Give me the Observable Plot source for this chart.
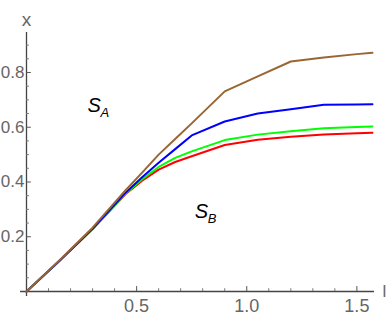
<!DOCTYPE html>
<html>
<head>
<meta charset="utf-8">
<script src="https://cdn.jsdelivr.net/npm/d3@7"></script>
<script src="https://cdn.jsdelivr.net/npm/@observablehq/plot@0.6"></script>
<style>
  html, body { margin: 0; padding: 0; background: #fff; }
  #chart svg { display: block; }
</style>
</head>
<body>
<div id="chart"></div>
<script>
// ---- data ----
const lValues = [0, 0.15, 0.3, 0.45, 0.525, 0.6, 0.675, 0.75, 0.9, 1.05, 1.2, 1.35, 1.5, 1.5708];
const brownX  = [0, 0.114, 0.233, 0.370, 0.434, 0.500, 0.557, 0.614, 0.731, 0.786, 0.840, 0.855, 0.867, 0.872];
const blueX   = [0, 0.112, 0.229, 0.361, 0.417, 0.470, 0.520, 0.570, 0.621, 0.650, 0.666, 0.682, 0.683, 0.684];
const greenX  = [0, 0.112, 0.228, 0.358, 0.410, 0.455, 0.488, 0.512, 0.553, 0.573, 0.585, 0.596, 0.601, 0.603];
const redX    = [0, 0.112, 0.228, 0.356, 0.405, 0.445, 0.473, 0.494, 0.535, 0.554, 0.565, 0.573, 0.578, 0.580];
const seriesNames  = ["curve 1", "curve 2", "curve 3", "curve 4"];
const seriesColors = ["#ff0000", "#00ff00", "#0000ff", "#996633"];
const xMajorTicks = [0.5, 1.0, 1.5];
const xMinorTicks = [0.1, 0.2, 0.3, 0.4, 0.6, 0.7, 0.8, 0.9, 1.1, 1.2, 1.3, 1.4];
const yMajorTicks = [0.2, 0.4, 0.6, 0.8];
const yMinorTicks = [0.05, 0.1, 0.15, 0.25, 0.3, 0.35, 0.45, 0.5, 0.55, 0.65, 0.7, 0.75, 0.85, 0.9];
const regionLabels = [{name: "S", sub: "A", l: 0.277, x: 0.655}, {name: "S", sub: "B", l: 0.764, x: 0.270}];
const axisLabelX = "l";
const axisLabelY = "x";

const seriesValues = [redX, greenX, blueX, brownX];
const rows = seriesNames.flatMap((s, k) => lValues.map((l, i) => ({series: s, l, x: seriesValues[k][i]})));

const xMax = 1.58, yMax = 0.946;
const tickFont = "'Liberation Sans', Arial, sans-serif";
const gray = "#666";

const chart = Plot.plot({
  width: 388,
  height: 319,
  marginLeft: 26,
  marginRight: 14,
  marginTop: 32,
  marginBottom: 28,
  x: {domain: [0, xMax], axis: null},
  y: {domain: [0, yMax], axis: null},
  color: {domain: seriesNames, range: seriesColors},
  style: {fontFamily: tickFont, background: "#fff", overflow: "visible"},
  marks: [
    // axes lines
    Plot.ruleY([0], {x1: -0.027, x2: xMax, stroke: "#444", strokeWidth: 1.3}),
    Plot.ruleX([0], {y1: -0.018, y2: yMax, stroke: "#444", strokeWidth: 1.3}),
    // inward ticks
    Plot.ruleX(xMajorTicks, {x: d => d, y1: 0, y2: 0.018, stroke: "#555"}),
    Plot.ruleX(xMinorTicks, {x: d => d, y1: 0, y2: 0.01, stroke: "#777"}),
    Plot.ruleY(yMajorTicks, {y: d => d, x1: 0, x2: 0.022, stroke: "#555"}),
    Plot.ruleY(yMinorTicks, {y: d => d, x1: 0, x2: 0.013, stroke: "#777"}),
    // tick labels
    Plot.text(xMajorTicks, {x: d => d, y: 0, dy: 15, text: d => d.toFixed(1), fontSize: 18, fill: gray}),
    Plot.text(yMajorTicks, {x: 0, y: d => d, dx: -2, textAnchor: "end", text: d => d.toFixed(1), fontSize: 17, fill: gray}),
    // axis labels
    Plot.text([axisLabelY], {x: 0, frameAnchor: "top", dy: -20, text: d => d, fontSize: 19, fill: gray}),
    Plot.text([axisLabelX], {y: 0, frameAnchor: "right", dx: 8, dy: 5, lineAnchor: "bottom", textAnchor: "start", text: d => d, fontSize: 17, fill: gray}),
    // curves
    Plot.line(rows, {x: "l", y: "x", z: "series", stroke: "series", strokeWidth: 2}),
    // region labels
    Plot.text(regionLabels, {x: "l", y: "x", text: "name", textAnchor: "start", lineAnchor: "bottom", fontSize: 20, fontStyle: "italic", fill: "#000"}),
    Plot.text(regionLabels, {x: "l", y: "x", text: "sub", textAnchor: "start", lineAnchor: "bottom", dx: 13, dy: 5, fontSize: 13, fontStyle: "italic", fill: "#000"})
  ]
});
document.getElementById("chart").appendChild(chart);
</script>
</body>
</html>
